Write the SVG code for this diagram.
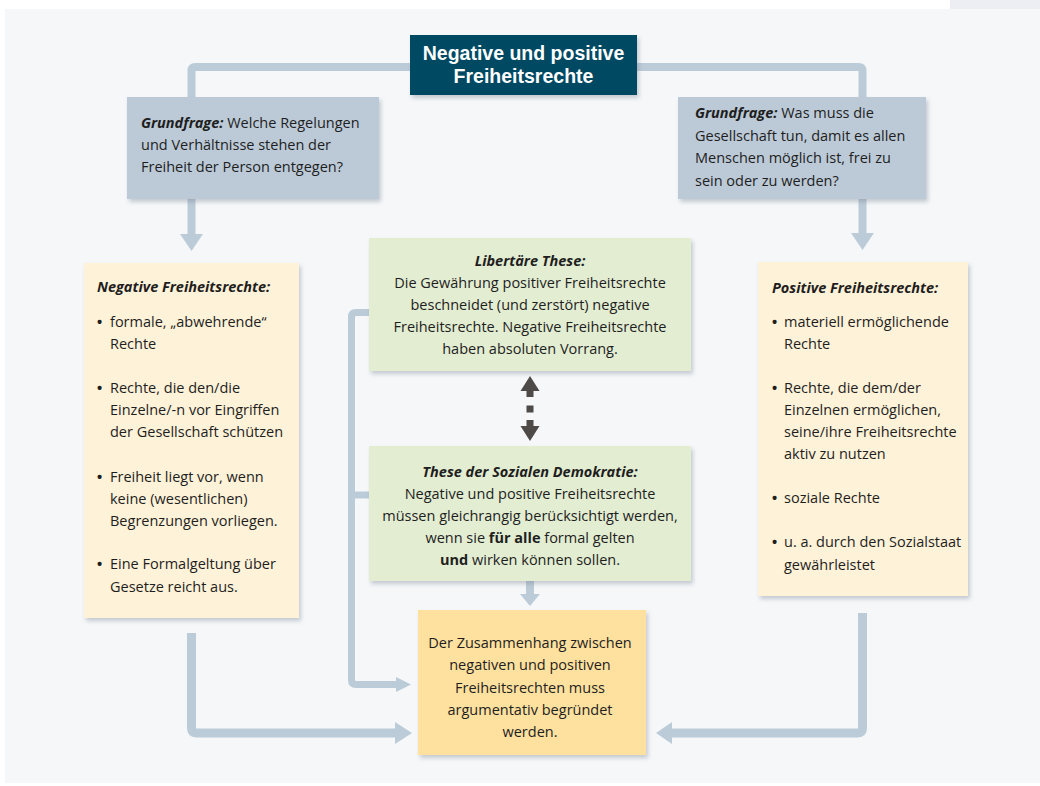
<svg xmlns="http://www.w3.org/2000/svg" width="1040" height="786" viewBox="0 0 1040 786">
<style>
text{font-family:"Open Sans","Noto Sans","Liberation Sans",sans-serif;font-size:14.5px;fill:#1e1e1e}
.t{fill:#fff;font-family:"Liberation Sans","Open Sans",sans-serif;font-weight:bold;font-size:19.5px;text-anchor:middle}
.c{text-anchor:middle}
.bi{font-weight:bold;font-style:italic}
.b{font-weight:bold}
.bu{font-size:19px}
.ln{fill:none;stroke:#bccbd8;stroke-linejoin:round}
.ah{fill:#bccbd8}
.dk{fill:#4e4a47}
</style>
<defs>
<filter id="sh" x="-10%" y="-10%" width="125%" height="125%">
<feDropShadow dx="2" dy="3" stdDeviation="2" flood-color="#6b7785" flood-opacity="0.35"/>
</filter>
</defs>
<rect x="0" y="0" width="1040" height="786" fill="#ffffff"/>
<rect x="5" y="9" width="1035" height="774" fill="#f5f7f9"/>
<rect x="950" y="0" width="90" height="9" fill="#eceef3"/>

<g id="connectors">
<path class="ln" stroke-width="8" d="M191.5 97 V71 Q191.5 67 195.5 67 H410"/>
<path class="ln" stroke-width="8" d="M637 67 H858.5 Q862.5 67 862.5 71 V97"/>
<path class="ln" stroke-width="8" d="M191.5 199 V235"/>
<polygon class="ah" points="180,234 203,234 191.5,251"/>
<path class="ln" stroke-width="8" d="M862.5 199 V234"/>
<polygon class="ah" points="851,233 874,233 862.5,250"/>
<path class="ln" stroke-width="7" d="M369 312.5 H356 Q351.5 312.5 351.5 317 V680 Q351.5 684.5 356 684.5 H397"/>
<path class="ln" stroke-width="7" d="M351.5 495 H369"/>
<polygon class="ah" points="396,677 396,692 411,684.5"/>
<path class="ln" stroke-width="8" d="M530 581 V596"/>
<polygon class="ah" points="520,594 540,594 530,606"/>
<path class="ln" stroke-width="9" d="M191.5 633 V728.5 Q191.5 733 196 733 H396"/>
<polygon class="ah" points="395,722 395,744 412,733"/>
<path class="ln" stroke-width="9" d="M862.5 613 V728.5 Q862.5 733 858 733 H671"/>
<polygon class="ah" points="672,722 672,744 656,733"/>
<g id="double-arrow">
<polygon class="dk" points="520.5,391 539.5,391 530,376"/>
<rect class="dk" x="526.5" y="390" width="7" height="7"/>
<rect class="dk" x="526.5" y="405.5" width="7" height="7"/>
<rect class="dk" x="526.5" y="420" width="7" height="7"/>
<polygon class="dk" points="520.5,426 539.5,426 530,441"/>
</g>
</g>

<g id="title">
<rect x="410" y="35" width="227" height="60" fill="#004a63" filter="url(#sh)"/>
<text class="t" x="523.5" y="60"><tspan x="523.5" y="60">Negative und positive</tspan><tspan x="523.5" y="83">Freiheitsrechte</tspan></text>
</g>

<g id="grundfrage-neg">
<rect x="127" y="97" width="252" height="102" fill="#bccad7" filter="url(#sh)"/>
<text x="141" y="128"><tspan class="bi">Grundfrage:</tspan> Welche Regelungen</text>
<text x="141" y="150">und Verhältnisse stehen der</text>
<text x="141" y="172">Freiheit der Person entgegen?</text>
</g>

<g id="grundfrage-pos">
<rect x="678" y="97" width="248" height="102" fill="#bccad7" filter="url(#sh)"/>
<text x="695" y="118"><tspan class="bi">Grundfrage:</tspan> Was muss die</text>
<text x="695" y="141">Gesellschaft tun, damit es allen</text>
<text x="695" y="163">Menschen möglich ist, frei zu</text>
<text x="695" y="186">sein oder zu werden?</text>
</g>

<g id="negative">
<rect x="84" y="263" width="215" height="355" fill="#fef2d8" filter="url(#sh)"/>
<text class="bi" x="97" y="292">Negative Freiheitsrechte:</text>
<text class="bu" x="96" y="329">•</text><text x="110" y="327">formale, „abwehrende“</text>
<text x="110" y="349">Rechte</text>
<text class="bu" x="96" y="395">•</text><text x="110" y="393">Rechte, die den/die</text>
<text x="110" y="415">Einzelne/-n vor Eingriffen</text>
<text x="110" y="437">der Gesellschaft schützen</text>
<text class="bu" x="96" y="484">•</text><text x="110" y="482">Freiheit liegt vor, wenn</text>
<text x="110" y="504">keine (wesentlichen)</text>
<text x="110" y="526">Begrenzungen vorliegen.</text>
<text class="bu" x="96" y="571">•</text><text x="110" y="569">Eine Formalgeltung über</text>
<text x="110" y="592">Gesetze reicht aus.</text>
</g>

<g id="positive">
<rect x="758" y="262" width="210" height="334" fill="#fef2d8" filter="url(#sh)"/>
<text class="bi" x="772" y="293">Positive Freiheitsrechte:</text>
<text class="bu" x="771" y="329">•</text><text x="784" y="327">materiell ermöglichende</text>
<text x="784" y="349">Rechte</text>
<text class="bu" x="771" y="395">•</text><text x="784" y="393">Rechte, die dem/der</text>
<text x="784" y="415">Einzelnen ermöglichen,</text>
<text x="784" y="437">seine/ihre Freiheitsrechte</text>
<text x="784" y="459">aktiv zu nutzen</text>
<text class="bu" x="771" y="505">•</text><text x="784" y="503">soziale Rechte</text>
<text class="bu" x="771" y="549">•</text><text x="784" y="547">u. a. durch den Sozialstaat</text>
<text x="784" y="570">gewährleistet</text>
</g>

<g id="libertaer">
<rect x="369" y="238" width="322" height="133" fill="#e3edd2" filter="url(#sh)"/>
<text class="c bi" x="530" y="266">Libertäre These:</text>
<text class="c" x="530" y="288">Die Gewährung positiver Freiheitsrechte</text>
<text class="c" x="530" y="310">beschneidet (und zerstört) negative</text>
<text class="c" x="530" y="332">Freiheitsrechte. Negative Freiheitsrechte</text>
<text class="c" x="530" y="354">haben absoluten Vorrang.</text>
</g>

<g id="sozialdemokratie">
<rect x="369" y="446" width="322" height="135" fill="#e3edd2" filter="url(#sh)"/>
<text class="c bi" x="530" y="477">These der Sozialen Demokratie:</text>
<text class="c" x="530" y="499">Negative und positive Freiheitsrechte</text>
<text class="c" x="530" y="521">müssen gleichrangig berücksichtigt werden,</text>
<text class="c" x="530" y="543">wenn sie <tspan class="b">für alle</tspan> formal gelten</text>
<text class="c" x="530" y="565"><tspan class="b">und</tspan> wirken können sollen.</text>
</g>

<g id="zusammenhang">
<rect x="418" y="610" width="228" height="145" fill="#fee19f" filter="url(#sh)"/>
<text class="c" x="530" y="648">Der Zusammenhang zwischen</text>
<text class="c" x="530" y="670">negativen und positiven</text>
<text class="c" x="530" y="693">Freiheitsrechten muss</text>
<text class="c" x="530" y="715">argumentativ begründet</text>
<text class="c" x="530" y="737">werden.</text>
</g>
</svg>
